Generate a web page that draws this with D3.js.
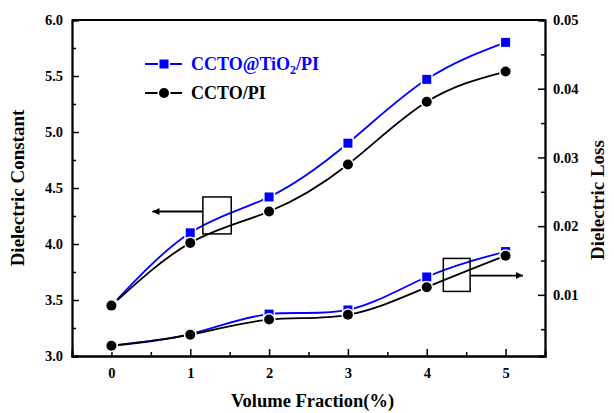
<html>
<head>
<script src="https://d3js.org/d3.v7.min.js"></script>
<style>
  body { margin: 0; background: #fff; }
  text { font-family: "Liberation Serif", "Times New Roman", serif; font-weight: bold; }
</style>
</head>
<body>
<svg width="614" height="413" id="chart"></svg>
<script>
// data
var fractions = [0, 1, 2, 3, 4, 5];
var constTiO2 = [3.45, 4.10, 4.42, 4.90, 5.47, 5.80];
var constCCTO = [3.45, 4.01, 4.29, 4.71, 5.27, 5.54];
var lossTiO2 = [0.0026, 0.0043, 0.0072, 0.0078, 0.0126, 0.0163];
var lossCCTO = [0.0026, 0.0042, 0.0064, 0.0071, 0.0111, 0.0157];
var leftTicks = [3.0, 3.5, 4.0, 4.5, 5.0, 5.5, 6.0];
var rightTicks = [0.01, 0.02, 0.03, 0.04, 0.05];

var margin = {left: 72, right: 545, top: 20, bottom: 356};
var svg = d3.select("#chart");

var x = d3.scaleLinear().domain([-0.5, 5.5]).range([margin.left, margin.right]);
var yL = d3.scaleLinear().domain([3.0, 6.0]).range([margin.bottom, margin.top]);
var yR = d3.scaleLinear().domain([0.0011, 0.05]).range([margin.bottom, margin.top]);

// axes, ticks inward
var bottomAxis = d3.axisBottom(x).tickValues(fractions).tickSize(-7).tickPadding(12).tickFormat(d3.format("d"));
var bottomMinor = d3.axisBottom(x).tickValues([0.5, 1.5, 2.5, 3.5, 4.5]).tickSize(-4).tickFormat("");
var leftAxis = d3.axisLeft(yL).tickValues(leftTicks).tickSize(-7).tickPadding(9).tickFormat(d3.format(".1f"));
var leftMinor = d3.axisLeft(yL).tickValues([3.25, 3.75, 4.25, 4.75, 5.25, 5.75]).tickSize(-4).tickFormat("");
var rightAxis = d3.axisRight(yR).tickValues(rightTicks).tickSize(-7).tickPadding(8).tickFormat(d3.format(".2f"));
var rightMinor = d3.axisRight(yR).tickValues([0.005, 0.015, 0.025, 0.035, 0.045]).tickSize(-4).tickFormat("");

function styleAxis(g) {
    g.selectAll("path").attr("stroke", "#000").attr("stroke-width", 1.8);
    g.selectAll("line").attr("stroke", "#000").attr("stroke-width", 1.5);
    g.selectAll("text").attr("font-size", 14.5).attr("fill", "#000")
        .style("font-family", "Liberation Serif, serif").style("font-weight", "bold");
}

svg.append("g").attr("transform", "translate(0," + margin.bottom + ")").call(bottomMinor).call(styleAxis);
svg.append("g").attr("transform", "translate(0," + margin.bottom + ")").call(bottomAxis).call(styleAxis);
svg.append("g").attr("transform", "translate(" + margin.left + ",0)").call(leftMinor).call(styleAxis);
svg.append("g").attr("transform", "translate(" + margin.left + ",0)").call(leftAxis).call(styleAxis);
svg.append("g").attr("transform", "translate(" + margin.right + ",0)").call(rightMinor).call(styleAxis);
svg.append("g").attr("transform", "translate(" + margin.right + ",0)").call(rightAxis).call(styleAxis);
// top frame line
svg.append("line")
    .attr("x1", margin.left).attr("x2", margin.right)
    .attr("y1", margin.top).attr("y2", margin.top)
    .attr("stroke", "#000").attr("stroke-width", 1.8);

// axis titles
svg.append("text")
    .attr("transform", "translate(24," + ((margin.top + margin.bottom) / 2) + ") rotate(-90)")
    .attr("text-anchor", "middle").attr("font-size", 19).text("Dielectric Constant");
svg.append("text")
    .attr("transform", "translate(604," + ((margin.top + margin.bottom) / 2 + 12) + ") rotate(-90)")
    .attr("text-anchor", "middle").attr("font-size", 19).attr("fill", "#1a0505").text("Dielectric Loss");
svg.append("text")
    .attr("x", (margin.left + margin.right) / 2 + 4).attr("y", 407)
    .attr("text-anchor", "middle").attr("font-size", 18.5).text("Volume Fraction(%)");

// series
var series = [
    {vals: constTiO2, y: yL, color: "#0000ff", shape: "square"},
    {vals: lossTiO2, y: yR, color: "#0000ff", shape: "square"},
    {vals: constCCTO, y: yL, color: "#000000", shape: "circle"},
    {vals: lossCCTO, y: yR, color: "#000000", shape: "circle"}
];

series.forEach(function(s) {
    var pts = fractions.map(function(f, i) { return [f, s.vals[i]]; });
    var line = d3.line()
        .x(function(d) { return x(d[0]); })
        .y(function(d) { return s.y(d[1]); })
        .curve(d3.curveNatural);
    svg.append("path").datum(pts)
        .attr("d", line)
        .attr("fill", "none")
        .attr("stroke", s.color)
        .attr("stroke-width", 1.8);
});

function drawMarker(g, shape, color, cx, cy) {
    if (shape === "square") {
        g.append("rect")
            .attr("x", cx - 4.5).attr("y", cy - 4.5)
            .attr("width", 9).attr("height", 9)
            .attr("fill", color)
            .attr("stroke", "#fff").attr("stroke-width", 3).attr("paint-order", "stroke");
    } else {
        g.append("circle")
            .attr("cx", cx).attr("cy", cy).attr("r", 5)
            .attr("fill", color)
            .attr("stroke", "#fff").attr("stroke-width", 3).attr("paint-order", "stroke");
    }
}

var markers = svg.append("g");
series.forEach(function(s) {
    fractions.forEach(function(f, i) {
        drawMarker(markers, s.shape, s.color, x(f), s.y(s.vals[i]));
    });
});

// annotation boxes and arrows (in data coordinates of each axis)
var annotations = [
    {x0: 1.16, x1: 1.52, y0: 4.42, y1: 4.09, arrowTo: 0.52, arrowY: 4.29, scale: yL, side: "left"},
    {x0: 4.21, x1: 4.55, y0: 0.0153, y1: 0.0105, arrowTo: 5.22, arrowY: 0.0128, scale: yR, side: "right"}
];

svg.append("defs").append("marker")
    .attr("id", "head")
    .attr("viewBox", "0 0 10 10")
    .attr("refX", 10).attr("refY", 5)
    .attr("markerWidth", 10).attr("markerHeight", 7)
    .attr("markerUnits", "userSpaceOnUse")
    .attr("orient", "auto")
    .append("path").attr("d", "M0,0 L10,5 L0,10 z").attr("fill", "#000");

annotations.forEach(function(a) {
    svg.append("rect")
        .attr("x", x(a.x0)).attr("y", a.scale(a.y0))
        .attr("width", x(a.x1) - x(a.x0))
        .attr("height", a.scale(a.y1) - a.scale(a.y0))
        .attr("fill", "none").attr("stroke", "#000").attr("stroke-width", 1.5);
    var start = a.side === "left" ? x(a.x0) : x(a.x1);
    svg.append("line")
        .attr("x1", start).attr("x2", x(a.arrowTo))
        .attr("y1", a.scale(a.arrowY)).attr("y2", a.scale(a.arrowY))
        .attr("stroke", "#000").attr("stroke-width", 1.8)
        .attr("marker-end", "url(#head)");
});

// legend
var legend = [
    {label: "CCTO@TiO", sub: "2", rest: "/PI", color: "#0000ff", shape: "square"},
    {label: "CCTO/PI", sub: "", rest: "", color: "#000000", shape: "circle"}
];
var lg = svg.append("g").attr("transform", "translate(145,64)");
legend.forEach(function(d, i) {
    var yy = i * 29;
    lg.append("line").attr("x1", 0).attr("x2", 37).attr("y1", yy).attr("y2", yy)
        .attr("stroke", d.color).attr("stroke-width", 1.8);
    drawMarker(lg, d.shape, d.color, 19, yy);
    var t = lg.append("text").attr("x", 46).attr("y", yy + 6)
        .attr("font-size", 18).attr("fill", d.color);
    t.append("tspan").text(d.label);
    if (d.sub) {
        t.append("tspan").attr("font-size", 12).attr("dy", 4).text(d.sub);
        t.append("tspan").attr("dy", -4).text(d.rest);
    }
});
</script>
</body>
</html>
